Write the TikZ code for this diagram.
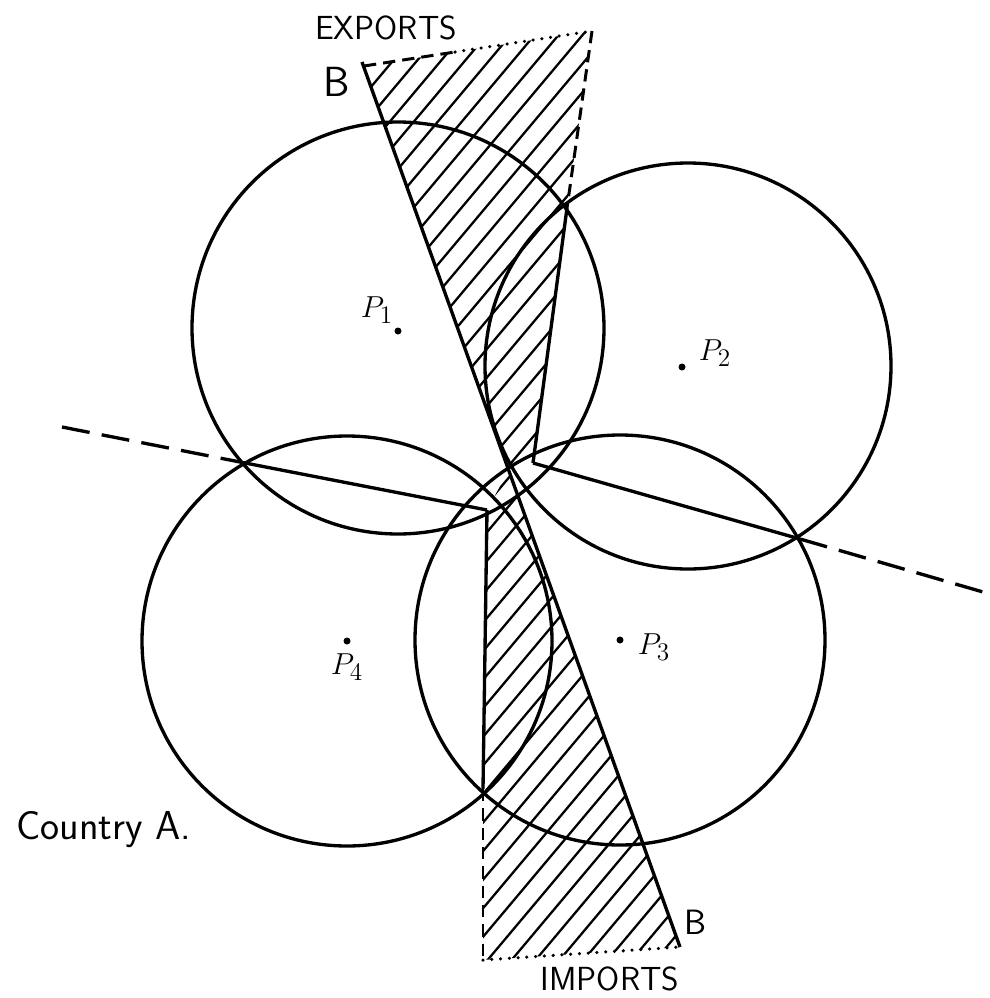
\documentclass[tikz,border=0pt]{standalone}
\usepackage{tikz}
\usetikzlibrary{calc}
\begin{document}
\begin{tikzpicture}[x=0.02cm, y=-0.02cm,
    curve/.style={line width=1.9pt},
    hatch/.style={line width=1.3pt},
    longdash/.style={line width=1.9pt, dash pattern=on 16pt off 7pt},
    shortdash/.style={line width=1.7pt, dash pattern=on 7pt off 4pt},
    dotline/.style={line width=2pt, line cap=round, dash pattern=on 0pt off 5pt},
    lbl/.style={font=\fontsize{19}{21}\selectfont\sffamily, inner sep=1pt},
    plbl/.style={font=\fontsize{19}{21}\selectfont}]
  \useasboundingbox (0,0) rectangle (990,998);

  % 点
  \coordinate (Btop) at (362,62);
  \coordinate (Bbot) at (680,947);
  \coordinate (Etl) at (364,66);
  \coordinate (Emid) at (455,52);
  \coordinate (Etr) at (592,31);
  \coordinate (Q) at (567,208);
  \coordinate (R) at (533,463);
  \coordinate (C) at (509,470);
  \coordinate (L) at (487,510);
  \coordinate (Lv) at (483,789);
  \coordinate (Ibl) at (483,960);
  \coordinate (Wl) at (62,427);
  \coordinate (X14) at (240,462);
  \coordinate (X23) at (800,539);
  \coordinate (Er) at (990,594);
  \coordinate (P1) at (398,331);
  \coordinate (P2) at (682,367);
  \coordinate (P3) at (620,640);
  \coordinate (P4) at (347,641);

  % 阴影 (出口)
  \begin{scope}
    \clip (Etl) -- (Etr) -- (Q) -- (R) -- (C) -- cycle;
    \foreach \k in {-3,...,47}
      \draw[hatch] ({\k*24-500*0.84},1000) -- ({\k*24+500*0.84},0);
  \end{scope}
  % 阴影 (进口)
  \begin{scope}
    \clip (C) -- (L) -- (Lv) -- (Ibl) -- (Bbot) -- cycle;
    \foreach \k in {-3,...,47}
      \draw[hatch] ({\k*24-500*0.84+10},1000) -- ({\k*24+500*0.84+10},0);
  \end{scope}

  % 圆
  \draw[curve] (398,328) circle (206);
  \draw[curve] (688,366) circle (203);
  \draw[curve] (620,640) circle (205);
  \draw[curve] (347,641) circle (205);

  % 边界
  \draw[shortdash] (Etl) -- (Emid);
  \draw[dotline] (Emid) -- (Etr);
  \draw[shortdash] (Etr) -- (Q);
  \draw[curve] (Q) -- (R);
  \draw[curve] (L) -- (Lv);
  \draw[shortdash] (Lv) -- (Ibl);
  \draw[dotline] (Ibl) -- (Bbot);

  % 直线 BB
  \draw[curve] (Btop) -- (Bbot);

  % 虚线
  \draw[longdash] (Wl) -- (X14);
  \draw[curve] (X14) -- (L);
  \draw[curve] (R) -- (X23);
  \draw[longdash] (X23) -- (Er);

  \fill (P1) circle (3.5);
  \fill (P2) circle (3.5);
  \fill (P3) circle (3.5);
  \fill (P4) circle (3.5);

  \node[plbl] (p1lbl) at (377,310) {$P_1$};
  \node[plbl] (p2lbl) at (715,353) {$P_2$};
  \node[plbl] (p3lbl) at (654,647) {$P_3$};
  \node[plbl] (p4lbl) at (347,667) {$P_4$};

  \node[lbl] (exports) at (386,28) {EXPORTS};
  \node[lbl] (imports) at (610,979) {IMPORTS};
  \node[font=\fontsize{24}{26}\selectfont\sffamily] (btoplbl) at (337,82) {B};
  \node[font=\fontsize{20}{22}\selectfont\sffamily] (bbotlbl) at (695,922) {B};
  \node[font=\fontsize{23}{25}\selectfont\sffamily] (country) at (104,830) {Country A.};
\end{tikzpicture}
\end{document}
